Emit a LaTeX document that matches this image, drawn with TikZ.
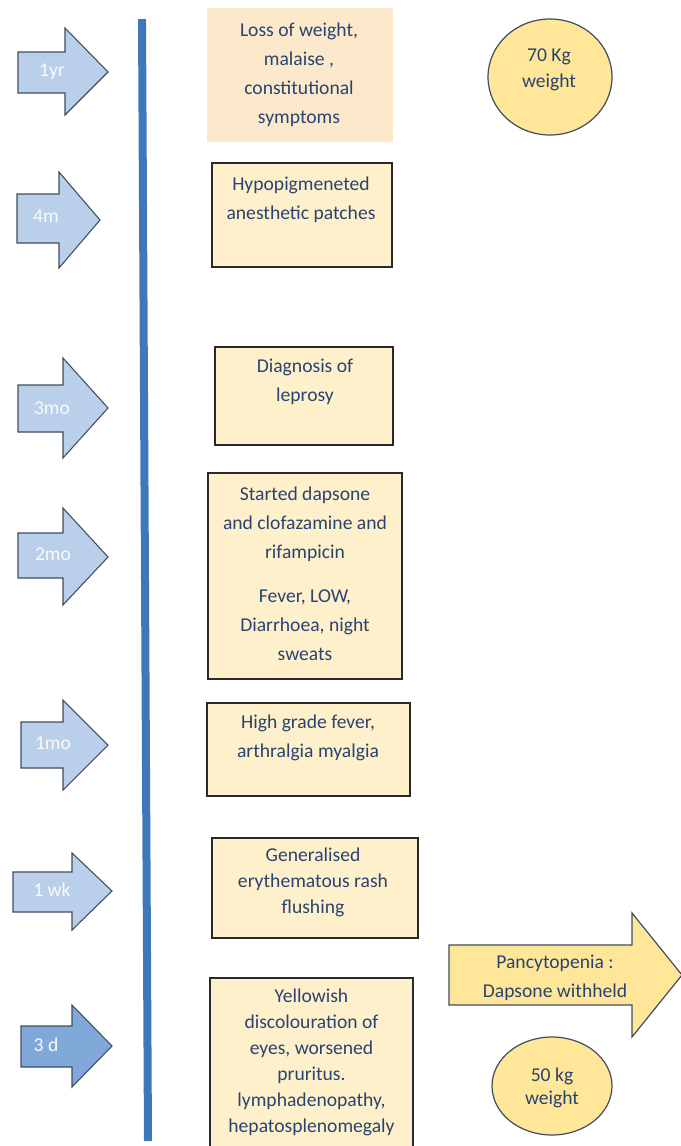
\documentclass[tikz,border=0pt]{standalone}
\usepackage{fontspec}
\setmainfont{Carlito}
\usetikzlibrary{shapes.geometric}
\definecolor{txtblue}{HTML}{294470}
\definecolor{linkblue}{HTML}{3E78BA}
\definecolor{arrowfill}{HTML}{B9CFEA}
\definecolor{arrowdark}{HTML}{80A8D8}
\definecolor{arrowedge}{HTML}{3F4D5E}
\definecolor{peach}{HTML}{FCE8CA}
\definecolor{cream}{HTML}{FFF0CC}
\definecolor{gold}{HTML}{FFE699}
\definecolor{boxedge}{HTML}{2A2A2A}
\tikzset{
  timeline/.style={draw=linkblue, line width=6pt},
  timearrow/.style={draw=arrowedge, line width=0.8pt, fill=arrowfill, line join=miter},
  timearrowdark/.style={timearrow, fill=arrowdark},
  arrowlabel/.style={text=white!92!arrowfill, font=\fontsize{14.7}{17}\selectfont, inner sep=0pt},
  plainbox/.style={rectangle, fill=peach, inner sep=0pt},
  eventbox/.style={rectangle, draw=boxedge, line width=0.9pt, fill=cream, inner sep=0pt},
  eventtext/.style={text=txtblue, align=center, inner sep=0pt, font=\fontsize{14.7}{21.75}\selectfont},
  tighttext/.style={eventtext, font=\fontsize{14.7}{19.5}\selectfont},
  weightcircle/.style={ellipse, draw=arrowedge, line width=0.9pt, fill=gold, inner sep=0pt},
  bigarrow/.style={draw=arrowedge, line width=0.9pt, fill=gold, line join=miter},
}
\begin{document}
\begin{tikzpicture}[x=0.75pt,y=-0.75pt]
\useasboundingbox (0,0) rectangle (681,1146);

% timeline
\coordinate (tltop) at (142,19);
\coordinate (tlbot) at (148,1141);
\draw[timeline] (tltop) -- (tlbot);

% time arrows
\draw[timearrow] (18,52) -- (65,52) -- (65,28) -- (108,72) -- (65,115) -- (65,93) -- (18,93) -- cycle;
\node[arrowlabel] (l1) at (52,72) {1yr};
\draw[timearrow] (17,194) -- (59,194) -- (59,172) -- (100,220) -- (59,268) -- (59,243) -- (17,243) -- cycle;
\node[arrowlabel] (l2) at (46,216) {4m};
\draw[timearrow] (18,385) -- (63,385) -- (63,358) -- (108,408) -- (63,458) -- (63,432) -- (18,432) -- cycle;
\node[arrowlabel] (l3) at (52,408) {3mo};
\draw[timearrow] (18,533) -- (63,533) -- (63,508) -- (108,557) -- (63,605) -- (63,578) -- (18,578) -- cycle;
\node[arrowlabel] (l4) at (53,554) {2mo};
\draw[timearrow] (21,722) -- (63,722) -- (63,700) -- (108,745) -- (63,790) -- (63,768) -- (21,768) -- cycle;
\node[arrowlabel] (l5) at (53,743) {1mo};
\draw[timearrow] (13,872) -- (72,872) -- (72,853) -- (112,891) -- (72,930) -- (72,912) -- (13,912) -- cycle;
\node[arrowlabel] (l6) at (52,890) {1 wk};
\draw[timearrowdark] (21,1026) -- (72,1026) -- (72,1005) -- (112,1046) -- (72,1087) -- (72,1067) -- (21,1067) -- cycle;
\node[arrowlabel] (l7) at (46,1045) {3 d};

% event boxes
\node[plainbox, minimum width=139.5pt, minimum height=100.5pt] (b1) at (300,75) {};
\node[eventtext] (t1) at (299,75) {Loss of weight,\\malaise ,\\constitutional\\symptoms};

\node[eventbox, minimum width=135pt, minimum height=78pt] (b2) at (302,215) {};
\node[eventtext] (t2) at (301,200) {Hypopigmeneted\\anesthetic patches};

\node[eventbox, minimum width=133.5pt, minimum height=73.5pt] (b3) at (304,396) {};
\node[eventtext] (t3) at (305,382) {Diagnosis of\\leprosy};

\node[eventbox, minimum width=145.5pt, minimum height=154.5pt] (b4) at (305,576) {};
\node[eventtext] (t4) at (305,574) {Started dapsone\\and clofazamine and\\rifampicin\\[11pt]Fever, LOW,\\Diarrhoea, night\\sweats};

\node[eventbox, minimum width=152.25pt, minimum height=69.75pt] (b5) at (308.5,749.5) {};
\node[eventtext] (t5) at (308,737.5) {High grade fever,\\arthralgia myalgia};

\node[eventbox, minimum width=154.5pt, minimum height=75pt] (b6) at (315,888) {};
\node[tighttext] (t6) at (313,882.5) {Generalised\\erythematous rash\\flushing};

\node[eventbox, minimum width=152.25pt, minimum height=130.5pt] (b7) at (311.5,1065) {};
\node[tighttext] (t7) at (311.5,1062.5) {Yellowish\\discolouration of\\eyes, worsened\\pruritus.\\lymphadenopathy,\\hepatosplenomegaly};

% weights
\node[weightcircle, minimum width=93pt, minimum height=87pt] (w1) at (550,77) {};
\node[eventtext, font=\fontsize{14.7}{19.5}\selectfont] (wt1) at (549,70) {70 Kg\\weight};

\node[weightcircle, minimum width=90pt, minimum height=73.5pt] (w2) at (552,1086) {};
\node[eventtext, font=\fontsize{14.7}{17.5}\selectfont] (wt2) at (552,1088) {50 kg\\weight};

% pancytopenia arrow
\draw[bigarrow] (449,945) -- (632,945) -- (632,913) -- (682,975) -- (632,1037) -- (632,1005) -- (449,1005) -- cycle;
\node[eventtext] (pa) at (555,977.5) {Pancytopenia :\\Dapsone withheld};
\end{tikzpicture}
\end{document}
